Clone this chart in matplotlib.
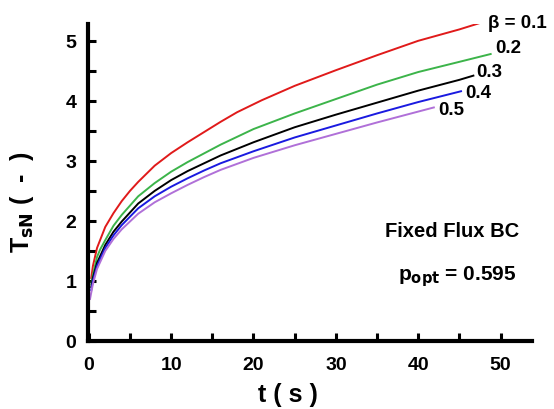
import matplotlib
matplotlib.use("Agg")
import matplotlib.pyplot as plt
from matplotlib.ticker import MultipleLocator

plt.rcParams['font.family'] = ['Liberation Sans', 'DejaVu Sans']
plt.rcParams['font.weight'] = 'bold'

# Normalized surface temperature vs time for several beta values
t_b01 = [0.3, 0.5, 1, 2, 3, 4, 5, 6, 8, 10, 12, 14, 16, 18, 21, 25, 30, 35, 40, 45, 47.8]
T_b01 = [1.05, 1.25, 1.55, 1.90, 2.13, 2.33, 2.50, 2.65, 2.92, 3.13, 3.31, 3.48, 3.65, 3.81, 4.01, 4.25, 4.51, 4.76, 5.00, 5.19, 5.31]

t_b02 = [0.3, 0.5, 1, 1.4, 2, 3, 4, 6, 8, 10, 12, 16, 20, 25, 30, 35, 40, 45, 48.8]
T_b02 = [0.95, 1.10, 1.40, 1.53, 1.68, 1.92, 2.10, 2.41, 2.63, 2.82, 2.98, 3.27, 3.53, 3.79, 4.03, 4.27, 4.48, 4.65, 4.78]

t_b03 = [0.3, 0.5, 1, 2, 3, 4, 6, 8, 10, 12, 16, 20, 25, 30, 35, 40, 45, 46.7]
T_b03 = [0.90, 1.05, 1.30, 1.60, 1.82, 1.99, 2.29, 2.50, 2.68, 2.83, 3.09, 3.31, 3.56, 3.77, 3.97, 4.17, 4.35, 4.42]

t_b04 = [0.3, 0.5, 1, 2, 3, 4, 6, 8, 10, 12, 14, 16, 20, 25, 30, 35, 40, 45.2]
T_b04 = [0.85, 1.00, 1.25, 1.55, 1.76, 1.93, 2.21, 2.41, 2.57, 2.71, 2.84, 2.96, 3.16, 3.39, 3.59, 3.79, 3.98, 4.16]

t_b05 = [0.15, 0.5, 1, 2, 3, 4, 6, 8, 10, 12, 14, 16, 20, 25, 30, 35, 41.9]
T_b05 = [0.70, 0.95, 1.20, 1.50, 1.70, 1.86, 2.12, 2.31, 2.46, 2.60, 2.73, 2.85, 3.05, 3.26, 3.45, 3.64, 3.89]

series = [
    (t_b01, T_b01, '#e01a1a'),
    (t_b02, T_b02, '#3cb44a'),
    (t_b03, T_b03, '#000000'),
    (t_b04, T_b04, '#1a1ae0'),
    (t_b05, T_b05, '#b070d8'),
]

# curve labels: text, x, baseline y
curve_labels = [
    ('β = 0.1', 48.5, 5.23),
    ('0.2', 49.3, 4.82),
    ('0.3', 47.1, 4.42),
    ('0.4', 45.7, 4.07),
    ('0.5', 42.4, 3.78),
]

fig = plt.figure(figsize=(5.54, 4.10), dpi=100)
ax = fig.add_axes([0.1588, 0.1659, 0.8012, 0.7731])

for t, T, c in series:
    ax.plot(t, T, color=c, lw=1.4)

for txt, x, y in curve_labels:
    ax.text(x, y, txt, fontsize=13.5, fontweight='bold', va='baseline', ha='left')

ax.text(36.0, 1.755, 'Fixed Flux BC', fontsize=14.5, fontweight='bold',
        va='baseline', ha='left')
ax.text(37.5, 1.03, r'p$_{\mathbf{opt}}$ = 0.595', fontsize=15, fontweight='bold',
        va='baseline', ha='left')

ax.set_xlim(-0.1, 53.8)
ax.set_ylim(0, 5.28)

for side in ('top', 'right'):
    ax.spines[side].set_visible(False)
for side in ('left', 'bottom'):
    ax.spines[side].set_linewidth(3)

ax.xaxis.set_major_locator(MultipleLocator(10))
ax.xaxis.set_minor_locator(MultipleLocator(5))
ax.yaxis.set_major_locator(MultipleLocator(1))
ax.yaxis.set_minor_locator(MultipleLocator(0.5))
ax.tick_params(which='both', direction='in', length=6, width=2.2, labelsize=14)
ax.tick_params(axis='x', pad=11)
ax.tick_params(axis='y', pad=8.5)

for lbl in ax.get_xticklabels() + ax.get_yticklabels():
    lbl.set_fontweight('bold')

ax.set_xlabel('t ( s )', fontsize=18, fontweight='bold')
ax.xaxis.set_label_coords(0.45, -0.13)
ax.set_ylabel(r'T$_{\mathbf{sN}}$ (  -  )', fontsize=18, fontweight='bold')
ax.yaxis.set_label_coords(-0.118, 0.44)

fig.savefig('out.png', dpi=100)
